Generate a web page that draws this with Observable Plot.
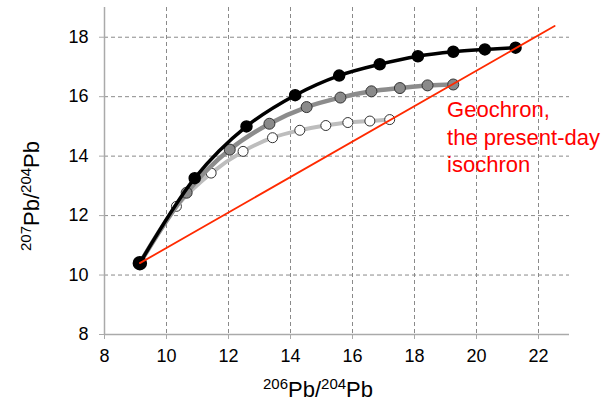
<!DOCTYPE html>
<html><head><meta charset="utf-8">
<script src="https://cdn.jsdelivr.net/npm/d3@7"></script>
<script src="https://cdn.jsdelivr.net/npm/@observablehq/plot@0.6"></script>
<style>body{margin:0;background:#fff;}</style>
</head><body><div id="chart"></div>
<script>
// 206Pb/204Pb (x) and 207Pb/204Pb (y)
const blackX = [9.14, 10.91, 12.58, 14.15, 15.57, 16.88, 18.11, 19.25, 20.27, 21.26];
const blackY = [10.40, 13.26, 15.00, 16.05, 16.71, 17.09, 17.36, 17.51, 17.59, 17.65];
const grayX  = [9.14, 10.65, 12.04, 13.32, 14.52, 15.61, 16.61, 17.53, 18.42, 19.25];
const grayY  = [10.40, 12.77, 14.22, 15.09, 15.65, 15.97, 16.18, 16.29, 16.38, 16.41];
const whiteX = [9.14, 10.32, 11.44, 12.47, 13.42, 14.30, 15.14, 15.85, 16.56, 17.20];
const whiteY = [10.40, 12.31, 13.43, 14.16, 14.62, 14.87, 15.03, 15.13, 15.18, 15.23];
const geochronX = [9.14, 22.52];
const geochronY = [10.40, 18.38];
const xTicks = [8, 10, 12, 14, 16, 18, 20, 22];
const yTicks = [8, 10, 12, 14, 16, 18];
const annotation = ["Geochron,", "the present-day", "isochron"];
const annotationPos = {x: 19.05, y: 14.68};

const toRows = (xs, ys) => xs.map((x, i) => ({x, y: ys[i]}));
const black = toRows(blackX, blackY);
const gray = toRows(grayX, grayY);
const white = toRows(whiteX, whiteY);
const geo = toRows(geochronX, geochronY);

const plot = Plot.plot({
  width: 614,
  height: 410,
  marginLeft: 104,
  marginRight: 45,
  marginTop: 7,
  marginBottom: 76,
  style: {fontFamily: "'Liberation Sans', Arial, sans-serif", fontSize: "18px", background: "#fff", overflow: "visible"},
  x: {domain: [8, 23]},
  y: {domain: [8, 19]},
  marks: [
    Plot.gridX(xTicks.slice(1), {stroke: "#8a8a8a", strokeOpacity: 1, strokeDasharray: "4,3", strokeWidth: 1}),
    Plot.gridY(yTicks.slice(1), {stroke: "#8a8a8a", strokeOpacity: 1, strokeDasharray: "4,3", strokeWidth: 1}),
    Plot.axisX({ticks: xTicks, tickSize: 5, tickPadding: 10, stroke: "#aaa", fill: "#000", fontSize: 18, label: "206Pb/204Pb", labelAnchor: "center", labelOffset: 62, labelArrow: false}),
    Plot.axisY({ticks: yTicks, tickSize: 5, tickPadding: 11, stroke: "#aaa", fill: "#000", fontSize: 18, label: "207Pb/204Pb", labelAnchor: "center", labelOffset: 86, labelArrow: false}),
    Plot.ruleX([8], {stroke: "#aaa", strokeWidth: 1.5}),
    Plot.ruleY([8], {stroke: "#aaa", strokeWidth: 1.5}),
    Plot.line(white, {x: "x", y: "y", stroke: "#bdbdbd", strokeWidth: 4, curve: "catmull-rom"}),
    Plot.dot(white.slice(1), {x: "x", y: "y", r: 5, fill: "#fff", stroke: "#333", strokeWidth: 1}),
    Plot.line(gray, {x: "x", y: "y", stroke: "#8c8c8c", strokeWidth: 4.5, curve: "catmull-rom"}),
    Plot.dot(gray.slice(1), {x: "x", y: "y", r: 5.5, fill: "#8a8a8a", stroke: "#333", strokeWidth: 1}),
    Plot.line(black, {x: "x", y: "y", stroke: "#000", strokeWidth: 3.5, curve: "catmull-rom"}),
    Plot.dot(black.slice(1), {x: "x", y: "y", r: 5.5, fill: "#000", stroke: "#000"}),
    Plot.dot(black.slice(0, 1), {x: "x", y: "y", r: 6.5, fill: "#000", stroke: "#000"}),
    Plot.line(geo, {x: "x", y: "y", stroke: "#ff2a00", strokeWidth: 1.8}),
    Plot.text([annotationPos], {x: "x", y: "y", text: () => annotation.join("\n"), textAnchor: "start", lineAnchor: "middle", lineHeight: 1.25, fontSize: 22, fill: "#ff0000"})
  ]
});

// superscript axis labels
function supLabel(sel, parts) {
  const t = sel.select("text");
  t.text(null);
  parts.forEach(([s, dy, sup]) => {
    t.append("tspan").attr("font-size", sup ? 15 : 22).attr("dy", dy).text(s);
  });
}
const parts = (a) => [[a, -8, true], ["Pb", 8, false], ["/", 0, false], ["204", -8, true], ["Pb", 8, false]];
const svg = d3.select(plot);
const xl = svg.select('g[aria-label="x-axis label"]');
supLabel(xl, parts("206"));
const yl = svg.select('g[aria-label="y-axis label"]');
supLabel(yl, parts("207"));
xl.attr("transform", "translate(-19,0) " + (xl.attr("transform") || ""));
yl.attr("transform", "translate(8,25) " + (yl.attr("transform") || ""));
document.getElementById("chart").appendChild(plot);
</script>
</body></html>
